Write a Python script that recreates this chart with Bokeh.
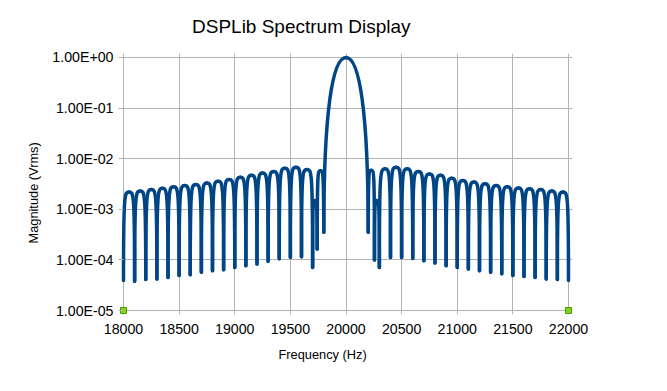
import numpy as np
from bokeh.plotting import figure
from bokeh.models import Range1d, FixedTicker, CustomJSTickFormatter, Title, ColumnDataSource
from bokeh.embed import file_html
from bokeh.resources import INLINE

# ---- data ----
# frequencies (Hz) of the spectrum's nulls, left to right
null_freqs = [18000, 18100, 18200, 18300, 18400, 18500, 18600, 18700, 18800,
              18900, 19000, 19100, 19200, 19300, 19400, 19500, 19600, 19700,
              19741, 19800,
              20200, 20256,
              20300, 20400, 20500, 20600, 20700, 20800, 20900, 21000, 21100,
              21200, 21300, 21400, 21500, 21600, 21700, 21800, 21900, 22000]
# magnitude (Vrms) at each null
null_mags = [3.9e-5, 3.8e-5, 4.1e-5, 4.2e-5, 4.5e-5, 4.9e-5, 5.1e-5, 5.7e-5, 6.1e-5,
             6.4e-5, 7.1e-5, 7.7e-5, 8.3e-5, 9.4e-5, 1.05e-4, 1.12e-4, 1.15e-4, 7.1e-5,
             1.65e-4, 3.5e-4,
             3.5e-4, 1.0e-4,
             7.1e-5, 1.12e-4, 1.12e-4, 1.07e-4, 9.6e-5, 8.7e-5, 7.7e-5, 7.1e-5, 6.6e-5,
             6.1e-5, 5.7e-5, 5.3e-5, 4.9e-5, 4.7e-5, 4.5e-5, 4.2e-5, 4.1e-5, 3.9e-5]
# peak magnitude (Vrms) of each lobe between consecutive nulls
lobe_peaks = [2.2e-3, 2.3e-3, 2.45e-3, 2.6e-3, 2.8e-3, 2.95e-3, 3.1e-3, 3.3e-3, 3.6e-3,
              3.9e-3, 4.3e-3, 4.7e-3, 5.2e-3, 5.6e-3, 6.5e-3, 6.8e-3, 6.1e-3,
              1.5e-3, 5.8e-3,
              1.0,
              5.9e-3, 1.5e-3,
              6.3e-3, 6.8e-3, 6.3e-3, 5.6e-3, 5.0e-3, 4.7e-3, 4.1e-3, 3.7e-3, 3.45e-3,
              3.2e-3, 2.95e-3, 2.8e-3, 2.65e-3, 2.55e-3, 2.45e-3, 2.3e-3, 2.2e-3]
# second series: end markers
marker_freqs = [18000, 22000]
marker_mags = [1e-5, 1e-5]

x_ticks = [18000, 18500, 19000, 19500, 20000, 20500, 21000, 21500, 22000]
y_ticks = [1e-5, 1e-4, 1e-3, 1e-2, 1e-1, 1.0]

# ---- build smooth lobes (two cubic Bezier halves per lobe) ----
nf = np.array(null_freqs, dtype=float)
nm = np.array(null_mags, dtype=float)
pk = np.array(lobe_peaks, dtype=float)
xl, xr = nf[:-1], nf[1:]
yl, yr = nm[:-1], nm[1:]
xp = (xl + xr) / 2.0
main = pk > 0.1
rise = np.where(main, 0.7, 1.0)      # shape: height of the vertical handle
reach = np.where(main, 0.4, 0.2)     # shape: where the flat top handle starts


def handle(ynull):
    ln, lp = np.log10(ynull), np.log10(pk)
    return 10 ** (ln + rise * (lp - ln))


src = ColumnDataSource(dict(
    x0=np.concatenate([xl, xp]),
    y0=np.concatenate([yl, pk]),
    x1=np.concatenate([xp, xr]),
    y1=np.concatenate([pk, yr]),
    cx0=np.concatenate([xl, xp + (1 - reach) * (xr - xp)]),
    cy0=np.concatenate([handle(yl), pk]),
    cx1=np.concatenate([xl + reach * (xp - xl), xr]),
    cy1=np.concatenate([pk, handle(yr)]),
))

FONT = "Liberation Sans"
GRID = "#b3b3b3"

# small padding around the data area so edge markers are not clipped
PAD_X = 36.0            # Hz  (~4 px)
PAD_Y = 10 ** 0.079     # factor (~4 px)

p = figure(width=659, height=383,
           x_range=Range1d(18000 - PAD_X, 22000 + PAD_X),
           y_range=Range1d(1e-5 / PAD_Y, 1.0 * PAD_Y),
           y_axis_type="log", output_backend="svg", toolbar_location=None,
           min_border_left=119, min_border_right=87,
           min_border_top=53, min_border_bottom=69)
p.outline_line_color = None
p.background_fill_color = "white"
p.border_fill_color = "white"

p.bezier(x0="x0", y0="y0", x1="x1", y1="y1", cx0="cx0", cy0="cy0",
         cx1="cx1", cy1="cy1", source=src, line_color="#004586",
         line_width=3.5, line_cap="round")

p.scatter(marker_freqs, marker_mags, marker="square", size=6,
          fill_color="#81d41a", line_color="#4e9a06", line_width=1)

# axes
p.xaxis.ticker = FixedTicker(ticks=x_ticks)
p.yaxis.ticker = FixedTicker(ticks=y_ticks)
p.xgrid.ticker = FixedTicker(ticks=x_ticks)
p.ygrid.ticker = FixedTicker(ticks=y_ticks)
p.yaxis.formatter = CustomJSTickFormatter(code="""
const e = Math.round(Math.log10(tick));
const m = tick / Math.pow(10, e);
const a = Math.abs(e);
return m.toFixed(2) + "E" + (e < 0 ? "-" : "+") + (a < 10 ? "0" : "") + a;
""")
for ax in (p.xaxis, p.yaxis):
    ax.axis_line_color = None
    ax.major_tick_line_color = GRID
    ax.minor_tick_line_color = None
    ax.major_label_text_font = FONT
    ax.major_label_text_font_size = "14.2px"
    ax.major_label_text_color = "#000000"
p.yaxis.major_tick_in = 4
p.yaxis.major_tick_out = 1
p.yaxis.major_label_standoff = 5
p.xaxis.major_tick_in = 0
p.xaxis.major_tick_out = 0
p.xaxis.major_label_standoff = 9

for g in (p.xgrid, p.ygrid):
    g.grid_line_color = GRID
    g.grid_line_width = 1

# titles
t = Title(text="DSPLib Spectrum Display", align="left", offset=72.5, standoff=29,
          vertical_align="top",
          text_font=FONT, text_font_size="19px", text_font_style="normal",
          text_color="#000000")
p.add_layout(t, "above")
xl_t = Title(text="Frequency (Hz)", align="left", offset=159, standoff=16,
             text_font=FONT, text_font_size="12.8px", text_font_style="normal",
             text_color="#000000")
p.add_layout(xl_t, "below")
yl_t = Title(text="Magnitude (Vrms)", align="left", offset=71, standoff=18,
             text_font=FONT, text_font_size="12.8px", text_font_style="normal",
             text_color="#000000")
p.add_layout(yl_t, "left")

open("out.html", "w").write(file_html(p, INLINE))
